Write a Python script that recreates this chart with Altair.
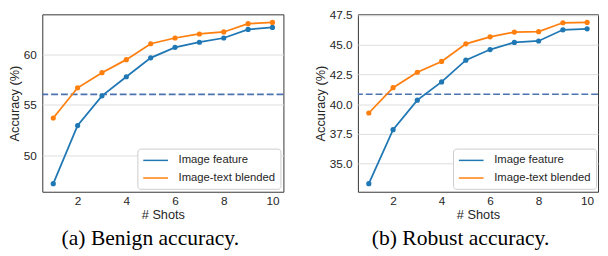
import altair as alt
import pandas as pd

shots = [1, 2, 3, 4, 5, 6, 7, 8, 9, 10]
series_names = ["Image feature", "Image-text blended"]
series_colors = ["#1f77b4", "#ff7f0e"]

benign_image = [47.17, 52.95, 55.9, 57.8, 59.68, 60.72, 61.23, 61.65, 62.5, 62.7]
benign_blended = [53.7, 56.7, 58.2, 59.5, 61.08, 61.65, 62.05, 62.25, 63.07, 63.2]
benign_baseline = [56.05]
benign_ticks = [50, 55, 60]

robust_image = [33.33, 37.87, 40.35, 41.88, 43.71, 44.6, 45.2, 45.32, 46.26, 46.34]
robust_blended = [39.27, 41.4, 42.69, 43.6, 45.08, 45.67, 46.07, 46.1, 46.85, 46.88]
robust_baseline = [40.85]
robust_ticks = [35.0, 37.5, 40.0, 42.5, 45.0, 47.5]

x_ticks = [2, 4, 6, 8, 10]
captions = ["(a) Benign accuracy.", "(b) Robust accuracy."]


def ydomain(a, b):
    lo = min(a + b)
    hi = max(a + b)
    m = (hi - lo) * 0.05
    return [lo - m, hi + m]


def panel(img, blend, base, ticks, fmt, caption, width):
    df = pd.DataFrame({
        "shots": shots * 2,
        "acc": img + blend,
        "method": [series_names[0]] * len(shots) + [series_names[1]] * len(shots),
    })
    bdf = pd.DataFrame({"acc": base})
    xenc = alt.X("shots:Q",
                 scale=alt.Scale(domain=[0.55, 10.45], nice=False, zero=False),
                 axis=alt.Axis(values=x_ticks, title="# Shots", grid=False, format="d"))
    yscale = alt.Scale(domain=ydomain(img, blend), nice=False, zero=False)
    yaxis = alt.Axis(values=ticks, format=fmt, title="Accuracy (%)", grid=True,
                     labelOverlap=False)
    yenc = alt.Y("acc:Q", scale=yscale, axis=yaxis)
    cscale = alt.Scale(domain=series_names, range=series_colors)
    rule = alt.Chart(bdf).mark_rule(strokeDash=[7, 3], color="#4C72B0", strokeWidth=1.6).encode(
        y=alt.Y("acc:Q", scale=yscale, axis=yaxis))
    lines = alt.Chart(df).mark_line(strokeWidth=1.8).encode(
        x=xenc, y=yenc,
        color=alt.Color("method:N", scale=cscale,
                        legend=alt.Legend(title=None, orient="none", legendX=97, legendY=137)))
    pts = alt.Chart(df).mark_circle(size=28, opacity=1).encode(
        x=xenc, y=yenc, color=alt.Color("method:N", scale=cscale, legend=None))
    return alt.layer(rule, lines, pts).properties(
        width=width, height=181,
        title=alt.TitleParams(caption, orient="bottom", font="Liberation Serif", fontSize=22,
                              fontWeight="normal", color="#000000", offset=7, anchor="middle",
                              frame="bounds", dx=4))


left = panel(benign_image, benign_blended, benign_baseline, benign_ticks, "d", captions[0], 246)
right = panel(robust_image, robust_blended, robust_baseline, robust_ticks, ".1f", captions[1], 245)

chart = alt.hconcat(left, right, spacing=29).resolve_legend(color="independent").properties(
    padding={"top": -2, "left": 0, "right": 0, "bottom": 0}
).configure_view(
    stroke="#333333", strokeWidth=1
).configure_axis(
    domain=False, ticks=False,
    labelFont="Liberation Sans", labelFontSize=12, labelColor="#262626",
    titleFont="Liberation Sans", titleFontSize=13, titleFontWeight="normal", titleColor="#262626",
    gridColor="#dddddd", gridWidth=1
).configure_axisX(
    labelPadding=4, titlePadding=2
).configure_axisY(
    labelPadding=6, titlePadding=2
).configure_legend(
    labelFont="Liberation Sans", labelFontSize=11.5, labelColor="#262626",
    strokeColor="#cccccc", fillColor="white", cornerRadius=3, padding=5,
    rowPadding=5, symbolType="M-1,0L3.2,0", symbolSize=144, symbolStrokeWidth=1.5,
    labelOffset=23
)

chart.save("out.html", embed_options={"renderer": "svg", "actions": False})
